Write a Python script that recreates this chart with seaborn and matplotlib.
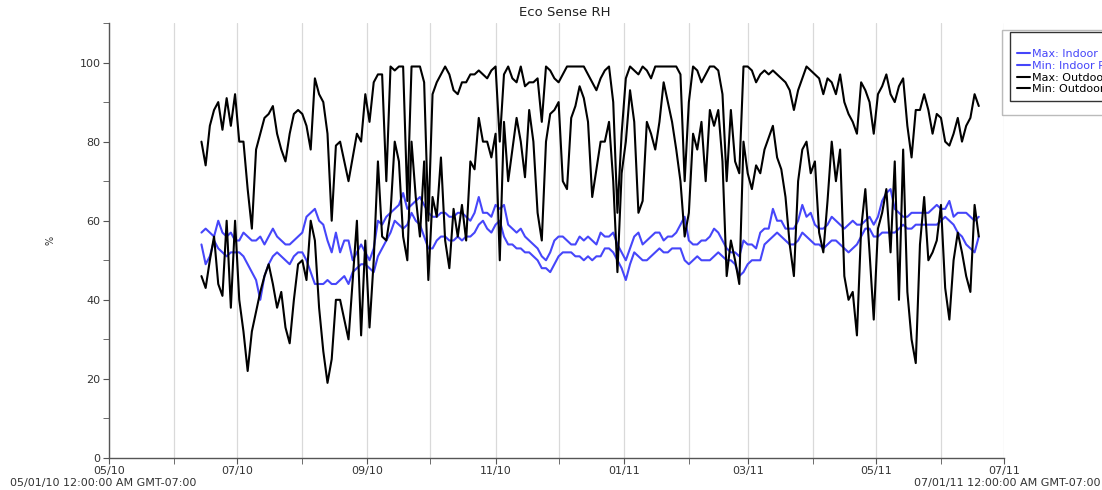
import pandas as pd
import seaborn as sns
import matplotlib
matplotlib.use('Agg')
import matplotlib.pyplot as plt
import matplotlib.dates as mdates
from matplotlib.patches import Rectangle

# readings every 2 days, starting 2010-06-14
start_date = '2010-06-14'

max_indoor = [57, 58, 57, 56, 60, 57, 56, 57, 55, 55, 57, 56, 55, 55, 56, 54, 56, 58, 56, 55, 54, 54, 55, 56, 57, 61, 62, 63, 60, 59, 55, 52,
              57, 52, 55, 55, 50, 52, 54, 52, 50, 53, 60, 59, 61, 62, 63, 64, 67, 63, 64, 65, 66, 64, 62, 61, 61, 62, 62, 61, 61, 62, 62, 61,
              60, 62, 66, 62, 62, 61, 64, 63, 64, 59, 58, 57, 58, 56, 55, 54, 53, 51, 50, 52, 55, 56, 56, 55, 54, 54, 56, 55, 56, 55, 54, 57,
              56, 56, 57, 54, 52, 50, 53, 56, 57, 54, 55, 56, 57, 57, 55, 56, 56, 57, 59, 61, 55, 54, 54, 55, 55, 56, 58, 57, 55, 53, 52, 52, 51,
              55, 54, 54, 53, 57, 58, 58, 63, 60, 60, 58, 58, 58, 60, 64, 61, 62, 59, 58, 58, 59, 61, 60, 59, 58, 59, 60, 59, 59, 60, 61, 59,
              61, 65, 67, 68, 63, 62, 61, 61, 62, 62, 62, 62, 62, 63, 64, 63, 63, 65, 61, 62, 62, 62, 61, 60, 61]

min_indoor = [54, 49, 51, 55, 53, 52, 51, 52, 52, 52, 51, 49, 47, 45, 40, 46, 49, 51, 52, 51, 50, 49, 51, 52, 52, 50, 47, 44, 44, 44, 45, 44,
              44, 45, 46, 44, 47, 48, 49, 49, 48, 47, 51, 53, 55, 57, 60, 59, 58, 59, 62, 60, 59, 56, 53, 53, 55, 56, 56, 55, 55, 56, 55, 56,
              56, 57, 59, 60, 58, 57, 59, 60, 56, 54, 54, 53, 53, 52, 52, 51, 50, 48, 48, 47, 49, 51, 52, 52, 52, 51, 51, 50, 51, 50, 51, 51,
              53, 53, 52, 50, 48, 45, 49, 52, 51, 50, 50, 51, 52, 53, 52, 52, 53, 53, 53, 50, 49, 50, 51, 50, 50, 50, 51, 52, 51, 50, 50, 49, 46,
              47, 49, 50, 50, 50, 54, 55, 56, 57, 56, 55, 54, 54, 55, 57, 56, 55, 54, 54, 53, 54, 55, 55, 54, 53, 52, 53, 54, 56, 58, 58, 56,
              56, 57, 57, 57, 57, 58, 59, 58, 58, 59, 59, 59, 59, 59, 59, 60, 61, 60, 59, 57, 56, 54, 53, 52, 56]

max_outdoor = [80, 74, 84, 88, 90, 83, 91, 84, 92, 80, 80, 68, 58, 78, 82, 86, 87, 89, 82, 78, 75, 82, 87, 88, 87, 84, 78, 96, 92, 90, 82, 60,
               79, 80, 75, 70, 76, 82, 80, 92, 85, 95, 97, 97, 70, 99, 98, 99, 99, 65, 99, 99, 99, 95, 60, 92, 95, 97, 99, 97, 93, 92, 95, 95,
               97, 97, 98, 97, 96, 98, 99, 80, 97, 99, 96, 95, 99, 94, 95, 95, 96, 85, 99, 98, 96, 95, 97, 99, 99, 99, 99, 99, 97, 95, 93, 96,
               98, 99, 90, 62, 82, 96, 99, 98, 97, 99, 98, 96, 99, 99, 99, 99, 99, 99, 97, 70, 90, 99, 98, 95, 97, 99, 99, 98, 92, 70, 88, 75, 72,
               99, 99, 98, 95, 97, 98, 97, 98, 97, 96, 95, 93, 88, 93, 96, 99, 98, 97, 96, 92, 96, 95, 92, 97, 90, 87, 85, 82, 95, 93, 90, 82,
               92, 94, 97, 92, 90, 94, 96, 84, 76, 88, 88, 92, 88, 82, 87, 86, 80, 79, 82, 86, 80, 84, 86, 92, 89]

min_outdoor = [46, 43, 50, 56, 44, 41, 60, 38, 60, 40, 32, 22, 32, 37, 42, 46, 49, 44, 38, 42, 33, 29, 40, 49, 50, 45, 60, 55, 38, 27, 19, 25,
               40, 40, 35, 30, 45, 60, 31, 55, 33, 50, 75, 56, 55, 62, 80, 75, 56, 50, 80, 66, 56, 75, 45, 66, 61, 76, 55, 48, 63, 56, 64, 55,
               75, 73, 86, 80, 80, 76, 82, 50, 85, 70, 78, 86, 80, 71, 88, 80, 62, 55, 80, 87, 88, 90, 70, 68, 86, 89, 94, 91, 85, 66, 73, 80,
               80, 85, 70, 47, 72, 80, 93, 85, 62, 65, 85, 82, 78, 85, 95, 90, 85, 78, 70, 56, 62, 82, 78, 85, 70, 88, 84, 88, 75, 46, 55, 50, 44,
               80, 72, 68, 74, 72, 78, 81, 84, 76, 73, 66, 54, 46, 70, 78, 80, 72, 75, 57, 52, 65, 80, 70, 78, 46, 40, 42, 31, 58, 68, 52, 35,
               58, 62, 68, 52, 75, 40, 78, 42, 30, 24, 54, 66, 50, 52, 55, 64, 43, 35, 50, 57, 52, 46, 42, 64, 56]

series_names = ['Max: Indoor RH', 'Min: Indoor RH', 'Max: Outdoor RH', 'Min: Outdoor RH']
series_vals = [max_indoor, min_indoor, max_outdoor, min_outdoor]

dates = pd.date_range(start_date, periods=len(max_indoor), freq='2D')
df = pd.concat([pd.DataFrame({'date': dates, 'RH': v, 'series': n})
                for n, v in zip(series_names, series_vals)], ignore_index=True)

blue = '#4646fa'
palette = {series_names[0]: blue, series_names[1]: blue,
           series_names[2]: 'black', series_names[3]: 'black'}

sns.set_style('white')
plt.rcParams['font.family'] = ['DejaVu Sans']

fig = plt.figure(figsize=(11.02, 4.90), dpi=100)
ax = fig.add_axes([109/1102, 32/490, 895/1102, 435/490])

sns.lineplot(data=df, x='date', y='RH', hue='series', hue_order=series_names,
             palette=palette, lw=1.5, ax=ax)

ax.set_xlim(pd.Timestamp('2010-05-01'), pd.Timestamp('2011-07-01'))
ax.set_ylim(0, 110)
ax.xaxis.set_major_locator(mdates.MonthLocator(bymonth=[1, 3, 5, 7, 9, 11]))
ax.xaxis.set_minor_locator(mdates.MonthLocator())
ax.xaxis.set_major_formatter(mdates.DateFormatter('%m/%y'))
ax.set_yticks(range(0, 101, 20))
ax.set_yticks(range(10, 111, 20), minor=True)

sns.despine(ax=ax)
for s in ['left', 'bottom']:
    ax.spines[s].set_color('#555555')
    ax.spines[s].set_linewidth(1)
ax.tick_params(axis='both', which='both', direction='out', color='#555555',
               labelsize=8, labelcolor='#333333', bottom=True, left=True)
ax.tick_params(axis='x', which='both', length=4, pad=2)
ax.tick_params(axis='y', which='both', length=4.5, pad=1.5)

ax.grid(axis='x', which='both', color='#d9d9d9', lw=0.9)
ax.grid(axis='y', visible=False)
ax.set_axisbelow(True)

ax.set_xlabel('')
ax.set_ylabel('%', fontsize=7, color='#333333')
ax.yaxis.set_label_coords(-54/895, 0.5)

fig.text(565/1102, 1 - 12/490, 'Eco Sense RH', ha='center', va='center', fontsize=9.5, color='#222222')
fig.text(10/1102, 1 - 483/490, '05/01/10 12:00:00 AM GMT-07:00', ha='left', va='center', fontsize=8, color='#333333')
fig.text(1100/1102, 1 - 483/490, '07/01/11 12:00:00 AM GMT-07:00', ha='right', va='center', fontsize=8, color='#333333')

# legend sits half outside the figure, as in the original screenshot
handles, labels = ax.get_legend_handles_labels()
leg = ax.legend(handles, labels, loc='upper left', bbox_to_anchor=(1010/1102, 1 - 32/490),
                bbox_transform=fig.transFigure, borderaxespad=0, fontsize=8,
                title=' ', title_fontsize=6,
                frameon=True, fancybox=False, edgecolor='black', borderpad=0.6,
                labelspacing=0.15, handlelength=1.2, handletextpad=0.15)
leg.get_frame().set_linewidth(1)
for t, n in zip(leg.get_texts(), labels):
    t.set_color(palette[n])

fig.add_artist(Rectangle((1002/1102, 1 - 115/490), 0.2, 85/490, transform=fig.transFigure,
                         fill=False, edgecolor='#bbbbbb', lw=1))

fig.savefig('out.png', dpi=100)
